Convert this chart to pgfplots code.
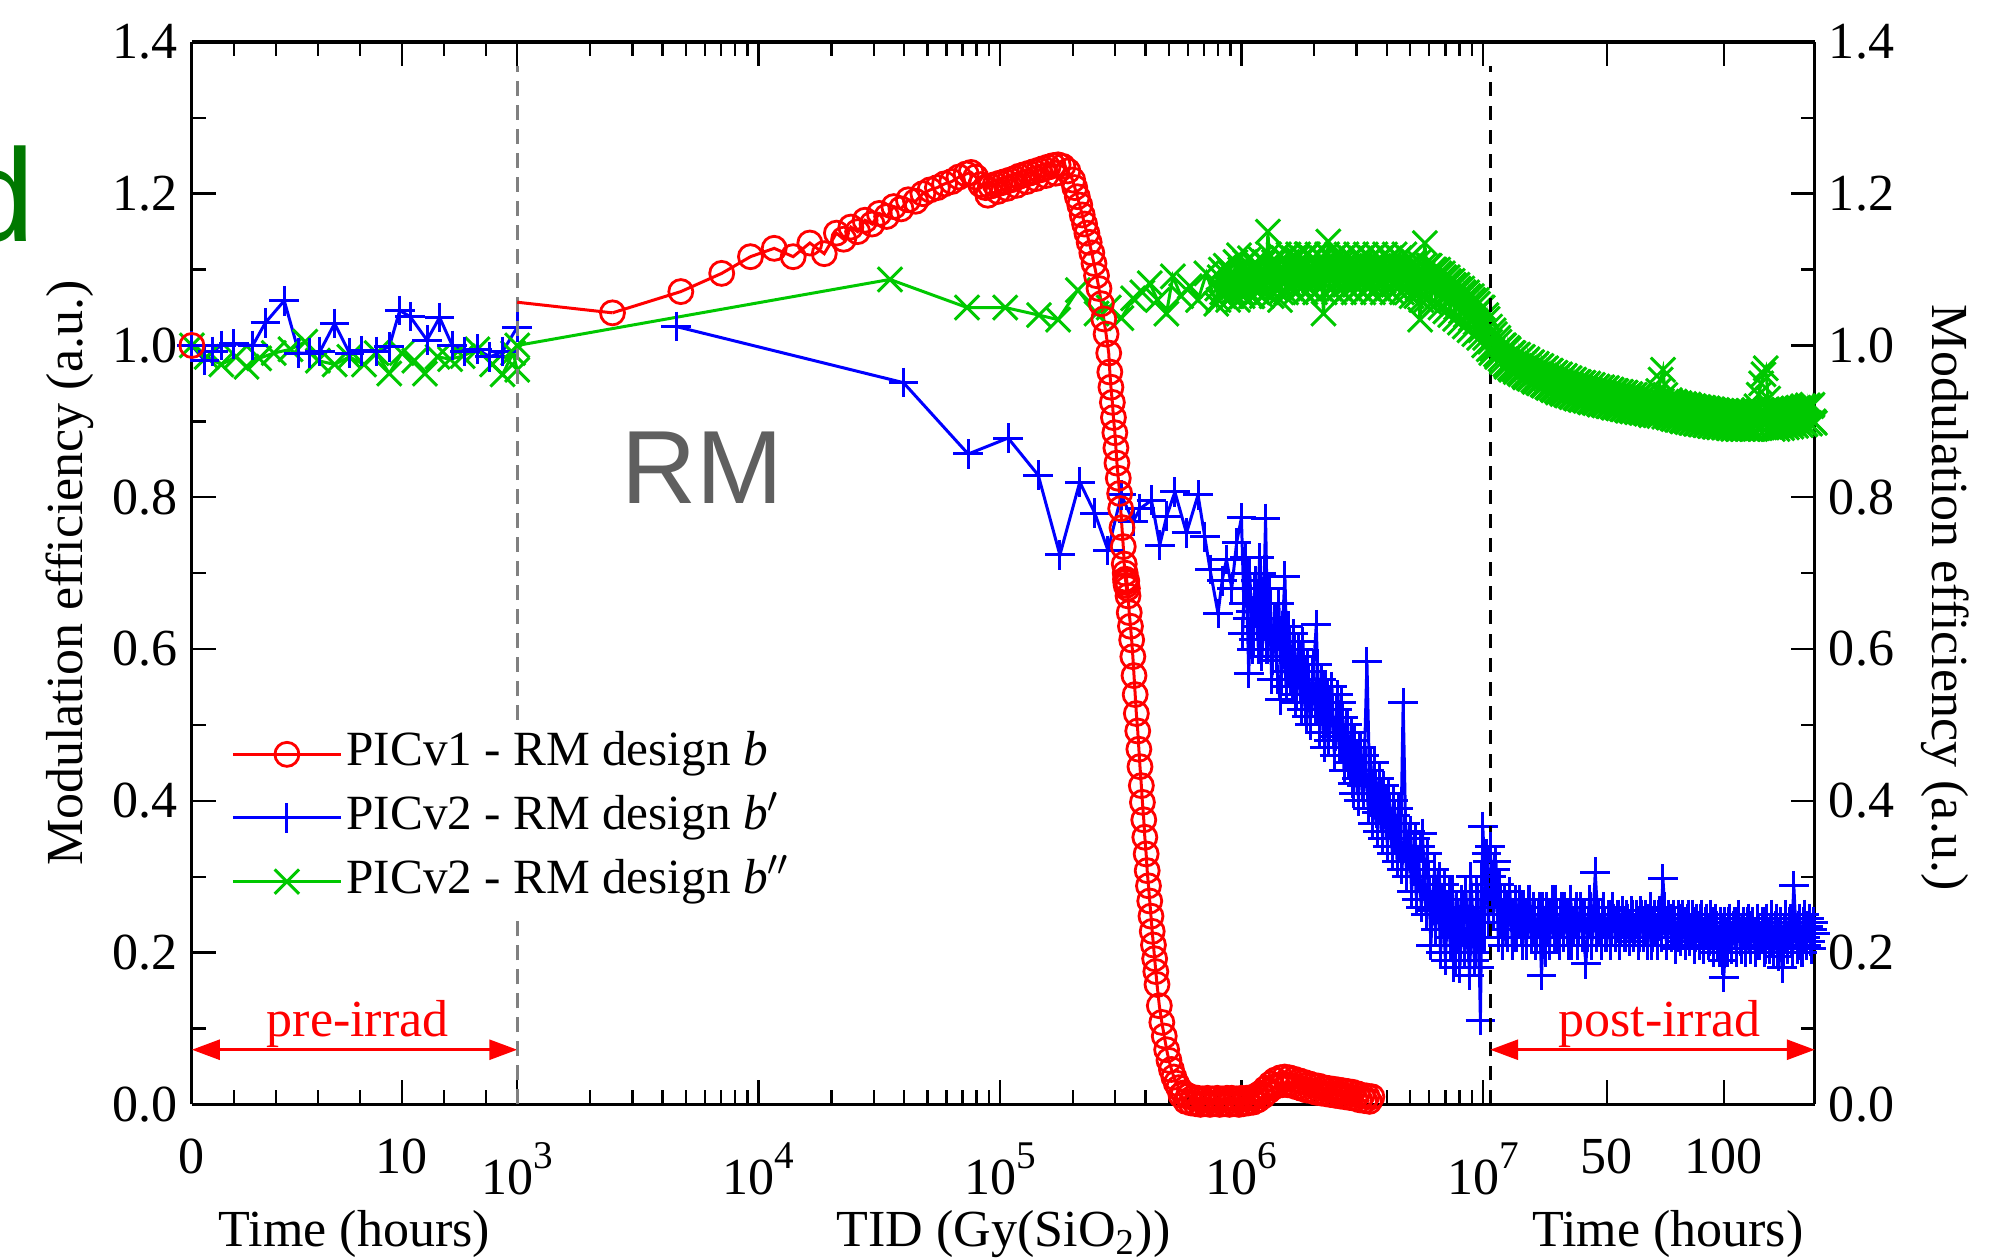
\documentclass[border=0pt]{standalone}
\usepackage{fontspec}
\setmainfont{Liberation Serif}
\newfontfamily\sansf{Liberation Sans}
\usepackage{pgfplots}
\pgfplotsset{compat=1.18}
\usetikzlibrary{arrows.meta}
\definecolor{cred}{RGB}{255,0,0}
\definecolor{cblue}{RGB}{0,0,255}
\definecolor{cgreen}{RGB}{0,200,0}
\definecolor{dgreen}{RGB}{0,120,0}
\definecolor{rmgray}{RGB}{95,95,95}
\newcommand\sups[1]{\raisebox{6.6pt}{\fontsize{9.8}{10}\selectfont #1}}
\pgfplotsset{
  every axis/.append style={
    scale only axis, height=265.48pt, clip=false, anchor=south west,
    ymin=0, ymax=1.4, ytick={0,0.2,0.4,0.6,0.8,1.0,1.2,1.4}, minor y tick num=1,
    tick align=inside, major tick length=6pt, minor tick length=3.5pt,
    font=\fontsize{13}{15}\selectfont,
    /pgf/number format/assume math mode=true,
    yticklabel style={/pgf/number format/fixed, /pgf/number format/fixed zerofill, /pgf/number format/precision=1},
    xticklabel style={yshift=-5pt},
    axis line style={-, line width=0.8pt},
    every inner x axis line/.append style={-}, every outer x axis line/.append style={-},
    every inner y axis line/.append style={-}, every outer y axis line/.append style={-},
    every tick/.style={black, line width=0.6pt},
    every axis x label/.style={at={(axis description cs:0.5,0)}, anchor=base, yshift=-35.5pt},
    legend image code/.code={\draw[mark repeat=2,mark phase=2,#1] plot coordinates {(0pt,0pt) (13.5pt,0pt) (27pt,0pt)};},
  },
  rser/.style={cred, line width=0.75pt, mark=o, mark size=3pt, mark options={solid, line width=0.7pt}},
  bser/.style={cblue, line width=0.75pt, mark=+, mark size=3.7pt, mark options={solid, line width=0.75pt}},
  gser/.style={cgreen, line width=0.75pt, mark=x, mark size=4.3pt, mark options={solid, line width=0.75pt}},
}
\begin{document}
\begin{tikzpicture}
\useasboundingbox (0,0) rectangle (498pt,314.7pt);

% ---------------- left: pre-irradiation time ----------------
\begin{axis}[at={(47.95pt,38.74pt)}, width=81.30pt,
  xmin=0, xmax=15.5, xtick={0,10}, minor xtick={2,4,6,8,12,14},
  axis x line*=box, axis y line*=left, ytick pos=left,
  xlabel={Time (hours)}, ylabel={Modulation efficiency (a.u.)},
  every axis y label/.style={at={(axis description cs:-0.375,0.5)}, rotate=90, anchor=center},
]
\addplot[gser] coordinates {(0,1.000) (0.7,0.985) (1.4,0.975) (2.1,0.985) (2.6,0.972) (3.2,0.983) (3.9,0.990) (4.7,0.995) (5.4,1.005) (6.0,0.980) (6.8,0.975) (7.5,0.985) (8.2,0.975) (8.8,0.990) (9.4,0.963) (10.0,0.990) (10.6,0.980) (11.1,0.963) (11.7,0.985) (12.3,0.982) (12.9,0.986) (13.6,0.995) (14.3,0.975) (14.8,0.962) (15.3,0.990) (15.5,0.968)};
\addplot[bser] coordinates {(0,1.000) (0.6,0.980) (1.0,0.992) (1.4,1.000) (2.0,1.002) (2.9,1.000) (3.5,1.030) (4.4,1.059) (5.1,0.990) (5.6,0.990) (6.1,0.992) (6.8,1.029) (7.5,0.990) (8.1,0.993) (8.8,0.992) (9.4,0.998) (9.9,1.046) (10.4,1.038) (11.2,1.007) (11.8,1.037) (12.4,1.000) (13.0,0.992) (13.6,0.995) (14.2,0.985) (14.8,0.992) (15.5,1.024)};
\addplot[rser] coordinates {(0,1.000)};
\draw[cred, line width=0.7pt, {Triangle[length=7pt,width=5pt]}-{Triangle[length=7pt,width=5pt]}] (axis cs:0,0.072) -- (axis cs:15.5,0.072);
\node[cred, anchor=base, inner sep=0pt] at (axis cs:7.9,0.09) {pre-irrad};
\end{axis}

% ---------------- middle: TID ----------------
\begin{axis}[at={(129.25pt,38.74pt)}, width=243.09pt,
  xmode=log, xmin=1000, xmax=1.072e7,
  xtick={1000,10000,100000,1000000,10000000},
  minor xtick={2000,3000,4000,5000,6000,7000,8000,9000,20000,30000,40000,50000,60000,70000,80000,90000,200000,300000,400000,500000,600000,700000,800000,900000,2000000,3000000,4000000,5000000,6000000,7000000,8000000,9000000},
  xticklabels={10\sups{3},10\sups{4},10\sups{5},10\sups{6},10\sups{7}},
  xticklabel style={yshift=-1pt},
  axis x line*=box, axis y line=none, ymajorticks=false, yminorticks=false,
  xlabel={TID (Gy(SiO\textsubscript{2}))},
  legend style={at={(axis description cs:-0.307,0.3626)}, anchor=north west, draw=none, fill=white,
    font=\fontsize{12.3}{14}\selectfont, row sep=2.7pt,
    nodes={inner sep=1pt, text height=8.5pt, text depth=2.7pt}},
  legend cell align=left,
]
\draw[gray, dash pattern=on 3.8pt off 2.2pt, line width=0.8pt] (axis cs:1000,0) -- (axis cs:1000,1.368);
\addlegendimage{rser}
\addlegendentry{PICv1 - RM design \textit{b}}
\addlegendimage{bser}
\addlegendentry{PICv2 - RM design \textit{b}$^{\prime}$}
\addlegendimage{gser}
\addlegendentry{PICv2 - RM design \textit{b}$^{\prime\prime}$}
% green b''
\addplot[gser, forget plot] coordinates {(1000,1.000) (3.50e4,1.087) (7.30e4,1.050) (1.05e5,1.050) (1.45e5,1.040) (1.74e5,1.034) (2.10e5,1.073) (2.51e5,1.042) (2.82e5,1.050) (3.18e5,1.036) (3.56e5,1.062) (3.89e5,1.070) (4.17e5,1.082) (4.49e5,1.060) (4.89e5,1.042) (5.20e5,1.091) (5.62e5,1.065) (6.11e5,1.078) (6.61e5,1.060) (7.16e5,1.095) (7.87e5,1.055)
(7.943e5,1.075) (8.128e5,1.090) (8.318e5,1.070) (8.511e5,1.095) (8.710e5,1.075) (8.913e5,1.100) (9.120e5,1.065) (9.333e5,1.090) (9.550e5,1.080) (9.772e5,1.119)
(1.000e6,1.070) (1.023e6,1.095) (1.047e6,1.075) (1.072e6,1.100) (1.096e6,1.065) (1.122e6,1.090) (1.148e6,1.080) (1.175e6,1.105) (1.202e6,1.075) (1.230e6,1.095)
(1.259e6,1.080) (1.288e6,1.150) (1.318e6,1.085) (1.349e6,1.100) (1.380e6,1.075) (1.413e6,1.105) (1.445e6,1.060) (1.479e6,1.095) (1.514e6,1.085) (1.549e6,1.110)
(1.585e6,1.080) (1.622e6,1.100) (1.660e6,1.085) (1.698e6,1.115) (1.738e6,1.080) (1.778e6,1.100) (1.820e6,1.090) (1.862e6,1.120) (1.905e6,1.075) (1.950e6,1.100)
(1.995e6,1.085) (2.042e6,1.110) (2.089e6,1.090) (2.138e6,1.105) (2.188e6,1.042) (2.239e6,1.100) (2.291e6,1.137) (2.344e6,1.090) (2.399e6,1.110) (2.455e6,1.080)
(2.512e6,1.100) (2.570e6,1.090) (2.630e6,1.110) (2.692e6,1.080) (2.754e6,1.100) (2.818e6,1.085) (2.884e6,1.105) (2.951e6,1.080) (3.020e6,1.100) (3.090e6,1.090)
(3.162e6,1.110) (3.236e6,1.085) (3.311e6,1.100) (3.388e6,1.080) (3.467e6,1.105) (3.548e6,1.090) (3.631e6,1.100) (3.715e6,1.080) (3.802e6,1.105) (3.890e6,1.085)
(3.981e6,1.100) (4.074e6,1.090) (4.169e6,1.110) (4.266e6,1.080) (4.365e6,1.100) (4.467e6,1.085) (4.571e6,1.105) (4.677e6,1.090) (4.786e6,1.100) (4.898e6,1.080)
(5.012e6,1.105) (5.129e6,1.090) (5.248e6,1.100) (5.370e6,1.075) (5.495e6,1.034) (5.623e6,1.095) (5.754e6,1.135) (5.888e6,1.090) (6.026e6,1.105) (6.166e6,1.080)
(6.310e6,1.100) (6.457e6,1.075) (6.607e6,1.095) (6.761e6,1.070) (6.918e6,1.090) (7.079e6,1.065) (7.244e6,1.085) (7.413e6,1.060) (7.586e6,1.080) (7.762e6,1.050)
(7.943e6,1.075) (8.128e6,1.045) (8.318e6,1.070) (8.511e6,1.040) (8.710e6,1.065) (8.913e6,1.035) (9.120e6,1.060) (9.333e6,1.030) (9.550e6,1.055) (9.772e6,1.020)
(1.000e7,1.050) (1.023e7,1.010) (1.047e7,1.035) (1.072e7,1.005)};
\addplot[gser, forget plot] coordinates {(8.035e5,1.060) (8.222e5,1.100) (8.414e5,1.065) (8.610e5,1.105) (8.810e5,1.060) (9.016e5,1.095) (9.226e5,1.070) (9.441e5,1.110) (9.661e5,1.060) (9.886e5,1.100)
(1.012e6,1.065) (1.035e6,1.110) (1.059e6,1.070) (1.084e6,1.115) (1.109e6,1.065) (1.135e6,1.105) (1.161e6,1.070) (1.189e6,1.115) (1.216e6,1.065) (1.245e6,1.110)
(1.274e6,1.070) (1.303e6,1.120) (1.334e6,1.065) (1.365e6,1.110) (1.396e6,1.075) (1.429e6,1.120) (1.462e6,1.070) (1.496e6,1.115) (1.531e6,1.070) (1.567e6,1.120)
(1.603e6,1.075) (1.641e6,1.115) (1.679e6,1.070) (1.718e6,1.120) (1.758e6,1.075) (1.799e6,1.115) (1.841e6,1.070) (1.884e6,1.120) (1.928e6,1.075) (1.972e6,1.115)
(2.018e6,1.070) (2.065e6,1.120) (2.113e6,1.075) (2.163e6,1.115) (2.213e6,1.070) (2.265e6,1.120) (2.317e6,1.075) (2.371e6,1.115) (2.427e6,1.070) (2.483e6,1.120)
(2.541e6,1.075) (2.600e6,1.115) (2.661e6,1.070) (2.723e6,1.120) (2.786e6,1.075) (2.851e6,1.115) (2.917e6,1.070) (2.985e6,1.120) (3.055e6,1.075) (3.126e6,1.115)
(3.199e6,1.070) (3.273e6,1.120) (3.350e6,1.075) (3.428e6,1.115) (3.508e6,1.070) (3.589e6,1.120) (3.673e6,1.075) (3.758e6,1.115) (3.846e6,1.070) (3.936e6,1.120)
(4.027e6,1.075) (4.121e6,1.115) (4.217e6,1.070) (4.315e6,1.120) (4.416e6,1.075) (4.519e6,1.115) (4.624e6,1.070) (4.732e6,1.120) (4.842e6,1.070) (4.955e6,1.115)
(5.070e6,1.065) (5.188e6,1.110) (5.309e6,1.065) (5.433e6,1.110) (5.559e6,1.060) (5.689e6,1.105) (5.821e6,1.060) (5.957e6,1.105) (6.095e6,1.055) (6.237e6,1.100)
(6.383e6,1.055) (6.531e6,1.100) (6.683e6,1.050) (6.839e6,1.095) (6.998e6,1.045) (7.161e6,1.090) (7.328e6,1.040) (7.499e6,1.085) (7.674e6,1.035) (7.852e6,1.080)
(8.035e6,1.030) (8.222e6,1.075) (8.414e6,1.025) (8.610e6,1.070) (8.810e6,1.020) (9.016e6,1.065) (9.226e6,1.015) (9.441e6,1.060) (9.661e6,1.010) (9.886e6,1.050)
(1.012e7,1.000) (1.035e7,1.040) (1.059e7,0.995)};
% blue b'
\addplot[bser, forget plot] coordinates {(4.55e3,1.025) (3.98e4,0.951) (7.38e4,0.857) (1.08e5,0.878) (1.44e5,0.829) (1.77e5,0.724) (2.14e5,0.820) (2.47e5,0.779) (2.80e5,0.730) (3.18e5,0.803) (3.56e5,0.768) (3.80e5,0.785) (4.24e5,0.796) (4.59e5,0.737) (4.90e5,0.775) (5.30e5,0.807) (5.92e5,0.753) (6.61e5,0.803) (7.05e5,0.748) (7.41e5,0.705) (8.00e5,0.647) (8.32e5,0.690) (8.67e5,0.718) (9.12e5,0.680) (9.55e5,0.740)
(1.000e6,0.773) (1.023e6,0.660) (1.047e6,0.700) (1.072e6,0.568) (1.096e6,0.650) (1.122e6,0.612) (1.148e6,0.690) (1.175e6,0.600) (1.202e6,0.700) (1.230e6,0.630)
(1.259e6,0.772) (1.288e6,0.600) (1.318e6,0.660) (1.349e6,0.585) (1.380e6,0.640) (1.413e6,0.560) (1.445e6,0.533) (1.479e6,0.630) (1.514e6,0.696) (1.549e6,0.570)
(1.585e6,0.610) (1.622e6,0.550) (1.660e6,0.600) (1.698e6,0.540) (1.738e6,0.590) (1.778e6,0.520) (1.820e6,0.570) (1.862e6,0.511) (1.905e6,0.560) (1.950e6,0.530)
(1.995e6,0.580) (2.042e6,0.632) (2.089e6,0.520) (2.138e6,0.560) (2.188e6,0.500) (2.239e6,0.550) (2.291e6,0.480) (2.344e6,0.530) (2.399e6,0.490) (2.455e6,0.485)
(2.512e6,0.540) (2.570e6,0.470) (2.630e6,0.510) (2.692e6,0.460) (2.754e6,0.500) (2.818e6,0.440) (2.884e6,0.423) (2.951e6,0.480) (3.020e6,0.430) (3.090e6,0.470)
(3.162e6,0.420) (3.236e6,0.460) (3.311e6,0.583) (3.388e6,0.440) (3.467e6,0.400) (3.548e6,0.450) (3.631e6,0.384) (3.715e6,0.430) (3.802e6,0.380) (3.890e6,0.420)
(3.981e6,0.370) (4.074e6,0.410) (4.169e6,0.360) (4.266e6,0.400) (4.365e6,0.350) (4.467e6,0.390) (4.571e6,0.340) (4.677e6,0.529) (4.786e6,0.370) (4.898e6,0.330)
(5.012e6,0.360) (5.129e6,0.310) (5.248e6,0.350) (5.370e6,0.300) (5.495e6,0.340) (5.623e6,0.357) (5.754e6,0.290) (5.888e6,0.330) (6.026e6,0.280) (6.166e6,0.256)
(6.310e6,0.310) (6.457e6,0.270) (6.607e6,0.300) (6.761e6,0.250) (6.918e6,0.290) (7.079e6,0.240) (7.244e6,0.280) (7.413e6,0.220) (7.586e6,0.181) (7.762e6,0.260)
(7.943e6,0.220) (8.128e6,0.270) (8.318e6,0.230) (8.511e6,0.280) (8.710e6,0.210) (8.913e6,0.300) (9.120e6,0.240) (9.333e6,0.200) (9.550e6,0.270) (9.772e6,0.111)
(1.000e7,0.366) (1.023e7,0.290) (1.047e7,0.320) (1.072e7,0.270)};
\addplot[bser, forget plot] coordinates {(1.012e6,0.620) (1.035e6,0.720) (1.059e6,0.640) (1.084e6,0.700) (1.109e6,0.600) (1.135e6,0.680) (1.161e6,0.630) (1.189e6,0.720) (1.216e6,0.590) (1.245e6,0.660)
(1.274e6,0.600) (1.303e6,0.680) (1.334e6,0.560) (1.365e6,0.640) (1.396e6,0.590) (1.429e6,0.660) (1.462e6,0.560) (1.496e6,0.620) (1.531e6,0.550) (1.567e6,0.630)
(1.603e6,0.560) (1.641e6,0.620) (1.679e6,0.530) (1.718e6,0.600) (1.758e6,0.550) (1.799e6,0.610) (1.841e6,0.520) (1.884e6,0.580) (1.928e6,0.500) (1.972e6,0.570)
(2.018e6,0.520) (2.065e6,0.580) (2.113e6,0.490) (2.163e6,0.550) (2.213e6,0.470) (2.265e6,0.540) (2.317e6,0.500) (2.371e6,0.550) (2.427e6,0.460) (2.483e6,0.520)
(2.541e6,0.470) (2.600e6,0.530) (2.661e6,0.440) (2.723e6,0.500) (2.786e6,0.450) (2.851e6,0.490) (2.917e6,0.410) (2.985e6,0.460) (3.055e6,0.400) (3.126e6,0.470)
(3.199e6,0.410) (3.273e6,0.450) (3.350e6,0.390) (3.428e6,0.450) (3.508e6,0.370) (3.589e6,0.420) (3.673e6,0.360) (3.758e6,0.410) (3.846e6,0.350) (3.936e6,0.400)
(4.027e6,0.340) (4.121e6,0.390) (4.217e6,0.330) (4.315e6,0.380) (4.416e6,0.320) (4.519e6,0.370) (4.624e6,0.310) (4.732e6,0.360) (4.842e6,0.300) (4.955e6,0.350)
(5.070e6,0.280) (5.188e6,0.340) (5.309e6,0.270) (5.433e6,0.320) (5.559e6,0.260) (5.689e6,0.310) (5.821e6,0.250) (5.957e6,0.300) (6.095e6,0.210) (6.237e6,0.280)
(6.383e6,0.230) (6.531e6,0.290) (6.683e6,0.200) (6.839e6,0.270) (6.998e6,0.190) (7.161e6,0.260) (7.328e6,0.210) (7.499e6,0.280) (7.674e6,0.190) (7.852e6,0.250)
(8.035e6,0.180) (8.222e6,0.260) (8.414e6,0.200) (8.610e6,0.240) (8.810e6,0.170) (9.016e6,0.260) (9.226e6,0.190) (9.441e6,0.280) (9.661e6,0.180) (9.886e6,0.300)
(1.012e7,0.220) (1.035e7,0.330) (1.059e7,0.240)};
% red b
\addplot[cred, line width=0.75pt, forget plot] coordinates {(1000,1.057) (2480,1.043)};
\addplot[rser, forget plot] coordinates {(2.48e3,1.043) (4.76e3,1.071) (7.03e3,1.095) (9.25e3,1.117) (1.16e4,1.128) (1.39e4,1.117) (1.63e4,1.135) (1.87e4,1.121) (2.10e4,1.148) (2.25e4,1.140) (2.41e4,1.156) (2.57e4,1.150) (2.76e4,1.165) (2.95e4,1.160) (3.16e4,1.174) (3.39e4,1.170) (3.63e4,1.183) (3.89e4,1.180) (4.17e4,1.192) (4.47e4,1.190) (4.79e4,1.200) (5.13e4,1.205) (5.50e4,1.208) (5.89e4,1.213) (6.31e4,1.216) (6.76e4,1.222) (7.24e4,1.226) (7.59e4,1.228) (7.94e4,1.222) (8.32e4,1.212) (8.71e4,1.208) (9.12e4,1.210) (9.55e4,1.212)
(1.00e5,1.214) (1.05e5,1.216) (1.10e5,1.218) (1.15e5,1.220) (1.20e5,1.223) (1.26e5,1.225) (1.32e5,1.227) (1.38e5,1.229) (1.45e5,1.231) (1.51e5,1.233) (1.58e5,1.235) (1.66e5,1.237) (1.74e5,1.238) (1.82e5,1.236) (1.91e5,1.230)
(2.00e5,1.218) (2.04e5,1.208) (2.09e5,1.196) (2.14e5,1.185) (2.19e5,1.172) (2.24e5,1.160) (2.29e5,1.148) (2.34e5,1.136) (2.40e5,1.122) (2.45e5,1.108) (2.51e5,1.092) (2.57e5,1.075) (2.63e5,1.055) (2.69e5,1.035) (2.75e5,1.015) (2.82e5,0.990)
(2.85e5,0.965) (2.88e5,0.945) (2.92e5,0.925) (2.95e5,0.905) (2.99e5,0.885) (3.02e5,0.865) (3.05e5,0.845) (3.09e5,0.825) (3.13e5,0.805) (3.16e5,0.785) (3.20e5,0.760) (3.24e5,0.735) (3.27e5,0.712) (3.30e5,0.700) (3.31e5,0.692) (3.32e5,0.688) (3.33e5,0.684) (3.35e5,0.690) (3.37e5,0.680) (3.39e5,0.670)
(3.43e5,0.648) (3.47e5,0.630) (3.51e5,0.612) (3.55e5,0.590) (3.59e5,0.565) (3.63e5,0.540) (3.67e5,0.515) (3.72e5,0.492) (3.76e5,0.468) (3.80e5,0.445) (3.85e5,0.420) (3.89e5,0.398) (3.94e5,0.375) (3.98e5,0.352) (4.03e5,0.330) (4.07e5,0.308) (4.12e5,0.288) (4.17e5,0.268) (4.22e5,0.248) (4.27e5,0.228) (4.32e5,0.210) (4.37e5,0.192) (4.42e5,0.175) (4.47e5,0.158)
(4.57e5,0.130) (4.68e5,0.108) (4.79e5,0.090) (4.90e5,0.072) (5.01e5,0.058) (5.13e5,0.046) (5.25e5,0.036) (5.37e5,0.028) (5.50e5,0.022) (5.75e5,0.015) (6.03e5,0.011) (6.31e5,0.009)
(6.61e5,0.008) (6.92e5,0.007) (7.24e5,0.008) (7.59e5,0.007) (7.94e5,0.008) (8.32e5,0.007) (8.71e5,0.008) (9.12e5,0.008) (9.55e5,0.007) (1.00e6,0.008) (1.05e6,0.008) (1.10e6,0.009) (1.15e6,0.011)
(1.20e6,0.015) (1.26e6,0.021) (1.32e6,0.027) (1.38e6,0.032) (1.45e6,0.035) (1.51e6,0.036) (1.58e6,0.035) (1.66e6,0.033) (1.74e6,0.031) (1.82e6,0.029) (1.91e6,0.027) (2.00e6,0.025) (2.09e6,0.024) (2.19e6,0.022) (2.29e6,0.021) (2.40e6,0.020) (2.51e6,0.019) (2.63e6,0.018) (2.75e6,0.017) (2.88e6,0.016) (3.02e6,0.014) (3.16e6,0.012) (3.31e6,0.011) (3.47e6,0.010)};
\addplot[rser, forget plot] coordinates {(8.9e4,1.198) (9.8e4,1.203) (1.07e5,1.207) (1.17e5,1.211) (1.29e5,1.216) (1.41e5,1.220) (1.55e5,1.224) (1.70e5,1.227)};
\addplot[rser, forget plot] coordinates {(5.62e5,0.012) (5.89e5,0.004) (6.17e5,0.002) (6.46e5,0.001) (6.76e5,0.000) (7.08e5,0.001) (7.41e5,0.000) (7.76e5,0.001) (8.13e5,0.000) (8.51e5,0.001) (8.91e5,0.000) (9.33e5,0.001) (9.77e5,0.000) (1.02e6,0.001) (1.07e6,0.002) (1.12e6,0.003) (1.17e6,0.006) (1.23e6,0.011) (1.29e6,0.017) (1.35e6,0.022) (1.41e6,0.025) (1.48e6,0.026) (1.55e6,0.026) (1.62e6,0.025) (1.70e6,0.023) (1.78e6,0.021) (1.86e6,0.019) (1.95e6,0.018) (2.04e6,0.016) (2.14e6,0.015) (2.24e6,0.014) (2.34e6,0.013) (2.45e6,0.012) (2.57e6,0.011) (2.69e6,0.010) (2.82e6,0.009) (2.95e6,0.008) (3.09e6,0.006) (3.24e6,0.005) (3.39e6,0.004)};
\end{axis}

% ---------------- right: post-irradiation time ----------------
\begin{axis}[at={(372.34pt,38.74pt)}, width=81.14pt,
  xmin=0, xmax=139, xtick={50,100},
  axis x line*=box, axis y line*=right, ytick pos=right, yticklabel pos=right,
  xlabel={Time (hours)}, ylabel={Modulation efficiency (a.u.)},
  every axis x label/.style={at={(axis description cs:0.547,0)}, anchor=base, yshift=-35.5pt},
  every axis y label/.style={at={(axis description cs:1.40,0.477)}, rotate=-90, anchor=center},
]
\addplot[gser] coordinates {(0,1.025) (1,0.995) (2,1.015) (3,0.985) (4,1.005) (5,0.978) (6,1.0) (7,0.972) (8,0.995) (9,0.968) (10,0.99) (11,0.965) (12,0.988) (13,0.962) (14,0.985) (15,0.958) (16,0.982) (17,0.956) (18,0.978) (19,0.952) (20,0.976) (21,0.95) (22,0.973) (23,0.947) (24,0.97) (25,0.944) (26,0.967) (27,0.941) (28,0.964) (29,0.938) (30,0.962) (31,0.936) (32,0.96) (33,0.934) (34,0.957) (35,0.932) (36,0.955) (37,0.93) (38,0.952) (39,0.928) (40,0.951) (41,0.927) (42,0.95) (43,0.925) (44,0.948) (45,0.924) (46,0.946) (47,0.922) (48,0.945) (49,0.921) (50,0.944) (51,0.92) (52,0.942) (53,0.918) (54,0.94) (55,0.917) (56,0.939) (57,0.916) (58,0.938) (59,0.914) (60,0.936) (61,0.913) (62,0.935) (63,0.912) (64,0.934) (65,0.911) (66,0.933) (67,0.91) (68,0.932) (69,0.908) (70,0.93) (71,0.908) (72,0.94) (73,0.955) (74,0.968) (75,0.935) (76,0.906) (77,0.928) (78,0.904) (79,0.926) (80,0.902) (81,0.924) (82,0.901) (83,0.923) (84,0.9) (85,0.922) (86,0.898) (87,0.92) (88,0.897) (89,0.919) (90,0.896) (91,0.918) (92,0.895) (93,0.917) (94,0.894) (95,0.916) (96,0.893) (97,0.915) (98,0.892) (99,0.914) (100,0.892) (101,0.914) (102,0.891) (103,0.913) (104,0.89) (105,0.913) (106,0.89) (107,0.912) (108,0.89) (109,0.912) (110,0.89) (111,0.912) (112,0.89) (113,0.915) (114,0.92) (115,0.935) (116,0.95) (117,0.962) (118,0.97) (119,0.93) (120,0.915) (121,0.89) (122,0.913) (123,0.89) (124,0.914) (125,0.891) (126,0.915) (127,0.892) (128,0.916) (129,0.893) (130,0.917) (131,0.894) (132,0.918) (133,0.895) (134,0.92) (135,0.896) (136,0.921) (137,0.897) (138,0.922) (139,0.898)};
\addplot[gser, forget plot] coordinates {(0.5,0.99) (1.5,1.02) (2.5,0.988) (3.5,1.01) (4.5,0.982) (5.5,1.0) (6.5,0.975) (7.5,0.997) (8.5,0.97) (9.5,0.99) (10.5,0.968) (11.5,0.987) (12.5,0.964) (13.5,0.984) (14.5,0.96) (15.5,0.98) (16.5,0.957) (17.5,0.977) (18.5,0.954) (19.5,0.974) (20.5,0.951) (21.5,0.972) (22.5,0.948) (23.5,0.969) (24.5,0.945) (25.5,0.966) (26.5,0.943) (27.5,0.963) (28.5,0.94) (29.5,0.961) (30.5,0.938) (31.5,0.958) (32.5,0.935) (33.5,0.956) (34.5,0.933) (35.5,0.954) (36.5,0.931) (37.5,0.952) (38.5,0.929) (39.5,0.95) (40.5,0.928) (41.5,0.948) (42.5,0.926) (43.5,0.947) (44.5,0.925) (45.5,0.945) (46.5,0.923) (47.5,0.944) (48.5,0.922) (49.5,0.943) (50.5,0.92) (51.5,0.941) (52.5,0.919) (53.5,0.94) (54.5,0.918) (55.5,0.938) (56.5,0.916) (57.5,0.937) (58.5,0.915) (59.5,0.935) (60.5,0.914) (61.5,0.934) (62.5,0.913) (63.5,0.933) (64.5,0.912) (65.5,0.932) (66.5,0.911) (67.5,0.93) (68.5,0.91) (69.5,0.93) (70.5,0.909) (71.5,0.928) (72.5,0.907) (73.5,0.927) (74.5,0.906) (75.5,0.926) (76.5,0.905) (77.5,0.925) (78.5,0.903) (79.5,0.924) (80.5,0.902) (81.5,0.922) (82.5,0.9) (83.5,0.921) (84.5,0.899) (85.5,0.92) (86.5,0.898) (87.5,0.919) (88.5,0.897) (89.5,0.918) (90.5,0.896) (91.5,0.917) (92.5,0.895) (93.5,0.916) (94.5,0.894) (95.5,0.915) (96.5,0.893) (97.5,0.914) (98.5,0.893) (99.5,0.913) (100.5,0.892) (101.5,0.913) (102.5,0.891) (103.5,0.912) (104.5,0.891) (105.5,0.912) (106.5,0.89) (107.5,0.912) (108.5,0.89) (109.5,0.911) (110.5,0.89) (111.5,0.911) (112.5,0.89) (113.5,0.912) (114.5,0.891) (115.5,0.912) (116.5,0.892) (117.5,0.913) (118.5,0.892) (119.5,0.913) (120.5,0.892) (121.5,0.913) (122.5,0.893) (123.5,0.914) (124.5,0.893) (125.5,0.915) (126.5,0.894) (127.5,0.915) (128.5,0.895) (129.5,0.916) (130.5,0.896) (131.5,0.917) (132.5,0.897) (133.5,0.918) (134.5,0.897) (135.5,0.919) (136.5,0.898) (137.5,0.92) (138.5,0.9)};
\addplot[bser] coordinates {(0,0.34) (1,0.28) (2,0.31) (3,0.26) (4,0.29) (5,0.24) (6,0.27) (7,0.23) (8,0.26) (9,0.25) (10,0.22) (11,0.27) (12,0.24) (13,0.26) (14,0.21) (15,0.25) (16,0.24) (17,0.27) (18,0.23) (19,0.25) (20,0.22) (21,0.26) (22,0.17) (23,0.24) (24,0.26) (25,0.23) (26,0.25) (27,0.24) (28,0.27) (29,0.22) (30,0.25) (31,0.24) (32,0.26) (33,0.23) (34,0.25) (35,0.21) (36,0.24) (37,0.26) (38,0.23) (39,0.25) (40,0.22) (41,0.185) (42,0.24) (43,0.26) (44,0.24) (45,0.306) (46,0.25) (47,0.23) (48,0.25) (49,0.24) (50,0.22) (51,0.25) (52,0.23) (53,0.245) (54,0.235) (55,0.25) (56,0.23) (57,0.24) (58,0.22) (59,0.245) (60,0.235) (61,0.25) (62,0.23) (63,0.24) (64,0.22) (65,0.25) (66,0.235) (67,0.23) (68,0.245) (69,0.21) (70,0.24) (71,0.23) (72,0.25) (73,0.235) (74,0.297) (75,0.24) (76,0.225) (77,0.245) (78,0.23) (79,0.24) (80,0.22) (81,0.245) (82,0.23) (83,0.24) (84,0.225) (85,0.25) (86,0.23) (87,0.24) (88,0.22) (89,0.235) (90,0.245) (91,0.225) (92,0.24) (93,0.23) (94,0.215) (95,0.24) (96,0.225) (97,0.235) (98,0.2) (99,0.23) (100,0.167) (101,0.225) (102,0.24) (103,0.22) (104,0.235) (105,0.225) (106,0.24) (107,0.215) (108,0.23) (109,0.225) (110,0.24) (111,0.22) (112,0.235) (113,0.225) (114,0.21) (115,0.23) (116,0.22) (117,0.24) (118,0.205) (119,0.225) (120,0.23) (121,0.215) (122,0.235) (123,0.2) (124,0.225) (125,0.18) (126,0.23) (127,0.22) (128,0.24) (129,0.215) (130,0.288) (131,0.225) (132,0.235) (133,0.21) (134,0.24) (135,0.22) (136,0.235) (137,0.215) (138,0.23) (139,0.225)};
\addplot[bser, forget plot] coordinates {(0.5,0.30) (1.5,0.25) (2.5,0.32) (3.5,0.22) (4.5,0.27) (5.5,0.21) (6.5,0.26) (7.5,0.22) (8.5,0.28) (9.5,0.21) (10.5,0.25) (11.5,0.22) (12.5,0.27) (13.5,0.23) (14.5,0.26) (15.5,0.21) (16.5,0.27) (17.5,0.22) (18.5,0.26) (19.5,0.21) (20.5,0.25) (21.5,0.22) (22.5,0.26) (23.5,0.2) (24.5,0.25) (25.5,0.21) (26.5,0.27) (27.5,0.22) (28.5,0.25) (29.5,0.21) (30.5,0.26) (31.5,0.22) (32.5,0.25) (33.5,0.21) (34.5,0.27) (35.5,0.23) (36.5,0.25) (37.5,0.21) (38.5,0.26) (39.5,0.22) (40.5,0.25) (41.5,0.22) (42.5,0.27) (43.5,0.21) (44.5,0.26) (45.5,0.22) (46.5,0.25) (47.5,0.21) (48.5,0.26) (49.5,0.22) (50.5,0.25) (51.5,0.21) (52.5,0.26) (53.5,0.22) (54.5,0.25) (55.5,0.21) (56.5,0.255) (57.5,0.22) (58.5,0.25) (59.5,0.215) (60.5,0.255) (61.5,0.22) (62.5,0.25) (63.5,0.21) (64.5,0.255) (65.5,0.22) (66.5,0.25) (67.5,0.21) (68.5,0.26) (69.5,0.22) (70.5,0.25) (71.5,0.21) (72.5,0.255) (73.5,0.22) (74.5,0.26) (75.5,0.21) (76.5,0.25) (77.5,0.22) (78.5,0.25) (79.5,0.205) (80.5,0.25) (81.5,0.215) (82.5,0.25) (83.5,0.21) (84.5,0.245) (85.5,0.215) (86.5,0.25) (87.5,0.205) (88.5,0.245) (89.5,0.21) (90.5,0.25) (91.5,0.205) (92.5,0.245) (93.5,0.21) (94.5,0.25) (95.5,0.2) (96.5,0.245) (97.5,0.21) (98.5,0.24) (99.5,0.19) (100.5,0.24) (101.5,0.2) (102.5,0.245) (103.5,0.205) (104.5,0.24) (105.5,0.2) (106.5,0.25) (107.5,0.205) (108.5,0.24) (109.5,0.2) (110.5,0.245) (111.5,0.205) (112.5,0.24) (113.5,0.2) (114.5,0.245) (115.5,0.21) (116.5,0.24) (117.5,0.2) (118.5,0.245) (119.5,0.205) (120.5,0.25) (121.5,0.2) (122.5,0.245) (123.5,0.195) (124.5,0.24) (125.5,0.2) (126.5,0.25) (127.5,0.205) (128.5,0.245) (129.5,0.2) (130.5,0.25) (131.5,0.205) (132.5,0.245) (133.5,0.2) (134.5,0.25) (135.5,0.21) (136.5,0.245) (137.5,0.205) (138.5,0.24)};
\draw[black, dash pattern=on 3.5pt off 2.5pt, line width=0.7pt] (axis cs:0,0) -- (axis cs:0,1.368);
\draw[cred, line width=0.7pt, {Triangle[length=7pt,width=5pt]}-{Triangle[length=7pt,width=5pt]}] (axis cs:0,0.072) -- (axis cs:139,0.072);
\node[cred, anchor=base, inner sep=0pt] at (axis cs:72.5,0.09) {post-irrad};
\end{axis}

\node[text=rmgray, font=\sansf\fontsize{26}{26}\selectfont, inner sep=0pt] at (175.6pt,197.8pt) {RM};
\node[overlay, anchor=base east, inner sep=0pt, text=dgreen, font=\sansf\fontsize{33}{33}\selectfont] at (9pt,254.4pt) {d};
\end{tikzpicture}
\end{document}
